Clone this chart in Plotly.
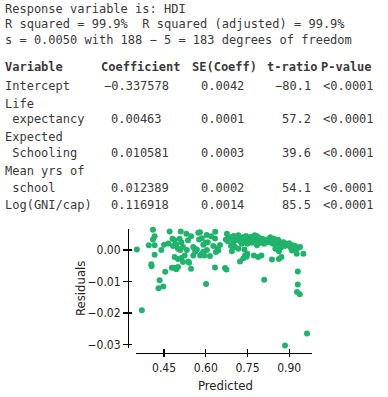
import plotly.graph_objects as go

# ---------------- data ----------------
summary_lines = [
    "Response variable is: HDI",
    "R squared = 99.9%  R squared (adjusted) = 99.9%",
    "s = 0.0050 with 188 − 5 = 183 degrees of freedom",
]
table_header = ["Variable", "Coefficient", "SE(Coeff)", "t-ratio", "P-value"]
variables = [["Intercept"], ["Life", " expectancy"], ["Expected", " Schooling"],
             ["Mean yrs of", " school"], ["Log(GNI/cap)"]]
coefficients = ["−0.337578", "0.00463", "0.010581", "0.012389", "0.116918"]
se_coeff = ["0.0042", "0.0001", "0.0003", "0.0002", "0.0014"]
t_ratios = ["−80.1", "57.2", "39.6", "54.1", "85.5"]
p_values = ["<0.0001", "<0.0001", "<0.0001", "<0.0001", "<0.0001"]

predicted = [
    0.352, 0.370, 0.410, 0.416, 0.410, 0.395, 0.416, 0.450, 0.440, 0.416,
    0.404, 0.405, 0.454, 0.434, 0.430, 0.447, 0.465,
    0.470, 0.510, 0.480, 0.488, 0.506, 0.512, 0.482, 0.494, 0.500, 0.518,
    0.488, 0.500, 0.512, 0.524, 0.478, 0.486, 0.500, 0.494, 0.518, 0.540,
    0.547, 0.536, 0.530, 0.547, 0.537, 0.559, 0.568, 0.508, 0.532,
    0.573, 0.579, 0.586, 0.576, 0.619, 0.607, 0.591, 0.600, 0.627, 0.643,
    0.645, 0.636, 0.586, 0.595, 0.580, 0.555, 0.615, 0.601, 0.633, 0.634,
    0.669, 0.674, 0.603, 0.633, 0.651, 0.555, 0.562, 0.591, 0.604,
    0.676, 0.681, 0.679, 0.672, 0.693, 0.699, 0.705, 0.691, 0.717, 0.723,
    0.735, 0.729, 0.741, 0.717, 0.739, 0.694, 0.741, 0.723, 0.735, 0.747,
    0.737, 0.745, 0.755, 0.764, 0.776, 0.784, 0.781, 0.749, 0.766, 0.784,
    0.796, 0.803, 0.814, 0.820, 0.827, 0.832, 0.845, 0.850, 0.856, 0.841,
    0.868, 0.874, 0.884, 0.892, 0.898, 0.910, 0.922, 0.928, 0.910, 0.850,
    0.863, 0.749, 0.773, 0.788, 0.800, 0.838, 0.863, 0.872, 0.810,
    0.700, 0.710, 0.725, 0.745, 0.760, 0.770, 0.790, 0.800, 0.810, 0.835,
    0.860, 0.880, 0.900, 0.905, 0.870,
    0.913, 0.939, 0.927, 0.951,
    0.931, 0.931, 0.928, 0.938, 0.964, 0.885,
]
residuals = [
    0.0002, -0.0191, 0.0065, 0.0044, 0.0034, 0.0015, 0.0015, 0.0017, 0.0000, -0.0015,
    -0.0045, -0.0051, -0.0069, -0.0096, -0.0121, -0.0116, 0.0021,
    0.0059, 0.0059, 0.0036, 0.0031, 0.0036, 0.0025, 0.0013, 0.0017, 0.0004, 0.0010,
    -0.0022, -0.0028, -0.0025, -0.0017, -0.0056, -0.0056, -0.0054, -0.0061, -0.0038, -0.0040,
    -0.0059, 0.0031, 0.0052, 0.0044, -0.0036, 0.0006, 0.0002, 0.0000, 0.0000,
    0.0055, 0.0057, 0.0038, 0.0034, 0.0044, 0.0025, 0.0017, 0.0023, 0.0013, 0.0006,
    -0.0001, -0.0006, -0.0012, -0.0017, -0.0017, -0.0017, -0.0019, -0.0108, -0.0055, 0.0058,
    -0.0057, -0.0062, 0.0048, 0.0037, 0.0016, 0.0010, -0.0005, -0.0005, 0.0000,
    0.0052, 0.0038, 0.0028, 0.0034, 0.0041, 0.0025, 0.0010, 0.0013, 0.0047, 0.0036,
    0.0041, 0.0020, 0.0025, 0.0004, 0.0002, -0.0004, -0.0017, -0.0036, -0.0026, -0.0021,
    0.0041, 0.0034, 0.0038, 0.0042, 0.0047, 0.0044, 0.0031, 0.0020, 0.0023, 0.0015,
    0.0023, 0.0036, 0.0028, 0.0034, 0.0025, 0.0041, 0.0036, 0.0028, 0.0020, 0.0020,
    0.0025, 0.0017, 0.0013, 0.0020, 0.0015, 0.0010, 0.0013, 0.0004, -0.0001, 0.0004,
    -0.0004, -0.0012, -0.0017, -0.0022, -0.0017, -0.0030, -0.0028, -0.0022, -0.0094,
    0.0045, 0.0032, 0.0028, 0.0045, 0.0030, 0.0036, 0.0040, 0.0028, 0.0020, 0.0030,
    0.0033, 0.0025, 0.0022, 0.0008, 0.0008,
    0.0015, 0.0010, -0.0012, -0.0012,
    -0.0068, -0.0109, -0.0133, -0.0140, -0.0265, -0.0303,
]

x_tickvals = [0.45, 0.60, 0.75, 0.90]
x_ticktext = ["0.45", "0.60", "0.75", "0.90"]
y_tickvals = [0.00, -0.01, -0.02, -0.03]
y_ticktext = ["0.00", "−0.01", "−0.02", "−0.03"]

# ---------------- layout helpers (window px -> paper) ----------------
FIG_W, FIG_H = 388, 397
PLOT_L, PLOT_R, PLOT_T, PLOT_B = 128, 312, 229, 353
ML, MT = PLOT_L, PLOT_T
MR, MB = FIG_W - PLOT_R, FIG_H - PLOT_B
PW = PLOT_R - PLOT_L
PH = PLOT_B - PLOT_T


def pxx(p):
    return (p - PLOT_L) / PW


def pxy(p):
    return (PLOT_B - p) / PH


GREEN = "#1fb36b"
TXT = "#3a3a3a"
MONO = "DejaVu Sans Mono, monospace"
NARROW = "Liberation Sans Narrow, DejaVu Sans Condensed, Arial Narrow, sans-serif"
CW = 7.22  # mono char width at 12px

fig = go.Figure()
fig.add_trace(go.Scatter(
    x=predicted, y=residuals, mode="markers",
    marker=dict(color=GREEN, size=6, line=dict(width=0)),
    cliponaxis=False, hoverinfo="skip", xaxis="x", yaxis="y",
))
# invisible twin trace that carries the inward half of each tick
fig.add_trace(go.Scatter(
    x=predicted, y=residuals, mode="markers",
    marker=dict(color="rgba(0,0,0,0)", size=1),
    hoverinfo="skip", xaxis="x2", yaxis="y2", showlegend=False,
))

xr = [0.349, 0.982]
yr = [-0.0311, 0.0067]
xdom = [pxx(136), 1.0]
ydom = [pxy(348), 1.0]

common_ax = dict(showgrid=False, zeroline=False)
fig.update_layout(
    width=FIG_W, height=FIG_H,
    margin=dict(l=ML, r=MR, t=MT, b=MB, pad=0),
    paper_bgcolor="white", plot_bgcolor="white", showlegend=False,
    xaxis=dict(domain=xdom, anchor="free", position=0, range=xr,
               showline=True, linecolor="black", linewidth=1.4,
               ticks="outside", ticklen=3, tickwidth=1.4, tickcolor="black",
               tickvals=x_tickvals, ticktext=x_ticktext,
               tickfont=dict(family=NARROW, size=12, color="#222"), **common_ax),
    yaxis=dict(domain=ydom, anchor="free", position=0, range=yr,
               showline=True, linecolor="black", linewidth=1.4,
               ticks="outside", ticklen=5, tickwidth=1.4, tickcolor="black",
               tickvals=y_tickvals, ticktext=y_ticktext,
               tickfont=dict(family=NARROW, size=12, color="#222"), **common_ax),
    xaxis2=dict(domain=xdom, anchor="free", position=0, range=xr, overlaying="x",
                showline=False, ticks="inside", ticklen=4, tickwidth=1.4,
                tickcolor="black", tickvals=x_tickvals, showticklabels=False,
                **common_ax),
    yaxis2=dict(domain=ydom, anchor="free", position=0, range=yr, overlaying="y",
                showline=False, ticks="inside", ticklen=3, tickwidth=1.4,
                tickcolor="black", tickvals=y_tickvals, showticklabels=False,
                **common_ax),
)

ann = []


def text(px, py, s, anchor="left", bold=False, family=MONO, size=12, color=TXT, angle=0):
    ann.append(dict(x=pxx(px), y=pxy(py), xref="paper", yref="paper", text=s,
                    showarrow=False, xanchor=anchor, yanchor="middle",
                    textangle=angle, borderpad=0,
                    font=dict(family=family, size=size, color=color,
                              weight="bold" if bold else "normal")))


for s, py in zip(summary_lines, [8.5, 24.5, 40]):
    text(4, py, s)

header_x = [4, 100, 191, 266, 320]
for s, hx in zip(table_header, header_x):
    text(hx, 67, s, bold=True)

row_label_y = [[86.5], [104, 119], [137, 152.5], [171, 188], [205]]
for lbl, ys, c, se, t, p in zip(variables, row_label_y, coefficients, se_coeff, t_ratios, p_values):
    for line, yy in zip(lbl, ys):
        text(4, yy, line.replace(" ", "&nbsp;") if line.startswith(" ") else line)
    vy = ys[-1]
    cx = 110 - (CW if c.startswith("−") else 0)
    text(cx, vy, c)
    text(245, vy, se, anchor="right")
    text(312, vy, t, anchor="right")
    text(322, vy, p.replace("<", "&lt;"))

text(80, 289, "Residuals", anchor="center", family=NARROW, size=13, color="#222", angle=-90)
text(225.5, 385, "Predicted", anchor="center", family=NARROW, size=13, color="#222")

fig.update_layout(annotations=ann)
# remove the browser's default 8px body margin so the figure fills the window
fig.write_html(
    "out.html",
    config={"displayModeBar": False, "staticPlot": True},
    post_script="document.body.style.margin='0';document.body.style.overflow='hidden';",
)
